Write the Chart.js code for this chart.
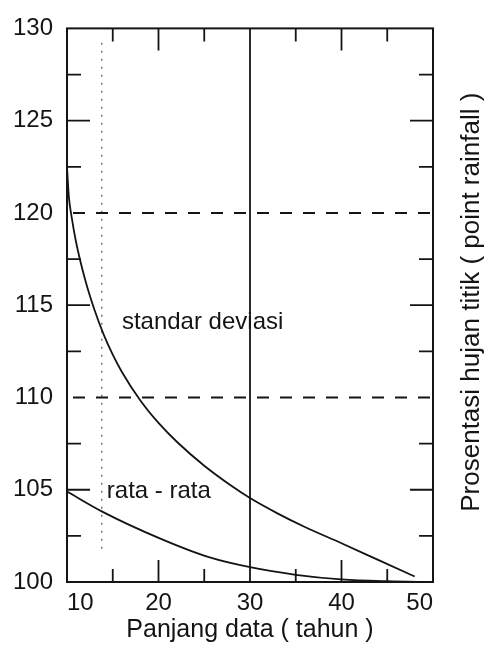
<!DOCTYPE html>
<html>
<head>
<meta charset="utf-8">
<script src="https://cdn.jsdelivr.net/npm/chart.js@4.4.0/dist/chart.umd.min.js"></script>
<style>
html,body{margin:0;padding:0;background:#fff;}
#wrap{width:485px;height:647px;}
</style>
</head>
<body>
<div id="wrap"><canvas id="c"></canvas></div>
<script>
// ---- data ----
const stdYears  = [10, 10.2, 10.5, 11, 12, 13, 14, 15, 16, 18, 20, 22, 25, 28, 30, 33, 36, 40, 44, 48];
const stdValues = [122.5, 120.9, 119.8, 118.4, 116.35, 114.75, 113.42, 112.32, 111.38, 109.85, 108.62, 107.6, 106.3, 105.2, 104.55, 103.72, 102.98, 102.1, 101.2, 100.3];
const meanYears  = [10, 13.9, 20.2, 25.6, 30, 35, 40, 45, 50];
const meanValues = [104.9, 103.8, 102.35, 101.33, 100.8, 100.39, 100.14, 100.04, 100];
const refLevels = [110, 120];          // dashed horizontal lines
const refYear = 30;                    // solid vertical line
const markYear = 13.8;                 // faint dotted vertical line
const markRange = [101.8, 129.5];
const xTickLabels = [10, 20, 30, 40, 50];
const yTickLabels = [100, 105, 110, 115, 120, 125, 130];
const xMajorTicks = [20, 40];
const xMinorTicks = [15, 25, 35, 45];
const yMajorTicks = [105, 115, 125];
const yMinorTicks = [102.5, 107.5, 112.5, 117.5, 122.5, 127.5];
const xTitle = 'Panjang data ( tahun )';
const yTitle = 'Prosentasi hujan titik ( point rainfall )';
const stdLabel = 'standar deviasi';
const meanLabel = 'rata - rata';

const FONT = '"Liberation Sans", Arial, Helvetica, sans-serif';
const INK = '#141414';

const pts = (xs, ys) => xs.map((x, i) => ({x, y: ys[i]}));
const xMin = xTickLabels[0], xMax = xTickLabels[xTickLabels.length - 1];
const yMin = yTickLabels[0], yMax = yTickLabels[yTickLabels.length - 1];

const datasets = [
  {label: stdLabel, data: pts(stdYears, stdValues), borderColor: INK, borderWidth: 1.8, pointRadius: 0, cubicInterpolationMode: 'monotone'},
  {label: meanLabel, data: pts(meanYears, meanValues), borderColor: INK, borderWidth: 1.8, pointRadius: 0, cubicInterpolationMode: 'monotone'},
  ...refLevels.map(v => ({label: 'ref ' + v, data: [{x: xMin, y: v}, {x: xMax, y: v}], borderColor: INK, borderWidth: 2, borderDash: [12, 11], borderDashOffset: -6, pointRadius: 0})),
  {label: 'ref ' + refYear, data: [{x: refYear, y: yMin}, {x: refYear, y: yMax}], borderColor: INK, borderWidth: 1.8, pointRadius: 0},
  {label: 'mark', data: [{x: markYear, y: markRange[0]}, {x: markYear, y: markRange[1]}], borderColor: '#777', borderWidth: 1.5, borderDash: [2, 6], pointRadius: 0}
];

const frame = {
  id: 'frame',
  beforeDraw(chart) {
    const c = chart.ctx;
    c.save(); c.fillStyle = '#fff'; c.fillRect(0, 0, chart.width, chart.height); c.restore();
  },
  afterDatasetsDraw(chart) {
    const {ctx, chartArea: a, scales: {x, y}} = chart;
    ctx.save();
    ctx.strokeStyle = INK;
    ctx.lineWidth = 2;
    ctx.strokeRect(a.left, a.top, a.right - a.left, a.bottom - a.top);
    ctx.lineWidth = 1.8;
    ctx.beginPath();
    const xt = (v, len) => { const p = x.getPixelForValue(v);
      ctx.moveTo(p, a.bottom); ctx.lineTo(p, a.bottom - len);
      ctx.moveTo(p, a.top); ctx.lineTo(p, a.top + len); };
    const yt = (v, len) => { const p = y.getPixelForValue(v);
      ctx.moveTo(a.left, p); ctx.lineTo(a.left + len, p);
      ctx.moveTo(a.right, p); ctx.lineTo(a.right - len, p); };
    xMajorTicks.forEach(v => xt(v, 22));
    xMinorTicks.forEach(v => xt(v, 13));
    yMajorTicks.forEach(v => yt(v, 23));
    yMinorTicks.forEach(v => yt(v, 14));
    ctx.stroke();

    ctx.fillStyle = INK;
    ctx.font = '24px ' + FONT;
    ctx.textAlign = 'left';
    ctx.textBaseline = 'alphabetic';
    ctx.fillText(stdLabel, x.getPixelForValue(16.0), y.getPixelForValue(113.7));
    ctx.fillText(meanLabel, x.getPixelForValue(14.35), y.getPixelForValue(104.53));

    ctx.font = '26px ' + FONT;
    ctx.textAlign = 'center';
    ctx.translate(a.right + 46, (a.top + a.bottom) / 2 - 3);
    ctx.rotate(-Math.PI / 2);
    ctx.fillText(yTitle, 0, 0);
    ctx.restore();
  }
};

new Chart(document.getElementById('c'), {
  type: 'line',
  data: {datasets},
  options: {
    responsive: true,
    maintainAspectRatio: false,
    animation: false,
    devicePixelRatio: 1,
    layout: {padding: {top: 16, right: 52, left: 0, bottom: 0}},
    plugins: {legend: {display: false}, tooltip: {enabled: false}},
    scales: {
      x: {
        type: 'linear', min: xMin, max: xMax,
        grid: {display: false, drawTicks: false},
        border: {display: false},
        afterBuildTicks: s => { s.ticks = xTickLabels.map(v => ({value: v})); },
        afterFit: s => { s.height = 65; },
        ticks: {font: {family: FONT, size: 24}, color: INK, padding: 7, align: 'inner', maxRotation: 0, autoSkip: false},
        title: {display: true, text: xTitle, font: {family: FONT, size: 25}, color: INK, padding: {top: 0, bottom: 2}}
      },
      y: {
        type: 'linear', min: yMin, max: yMax,
        grid: {display: false, drawTicks: false},
        border: {display: false},
        afterBuildTicks: s => { s.ticks = yTickLabels.map(v => ({value: v})); },
        afterFit: s => { s.width = 67; },
        ticks: {font: {family: FONT, size: 24}, color: INK, padding: 14, autoSkip: false}
      }
    }
  },
  plugins: [frame]
});
</script>
</body>
</html>
